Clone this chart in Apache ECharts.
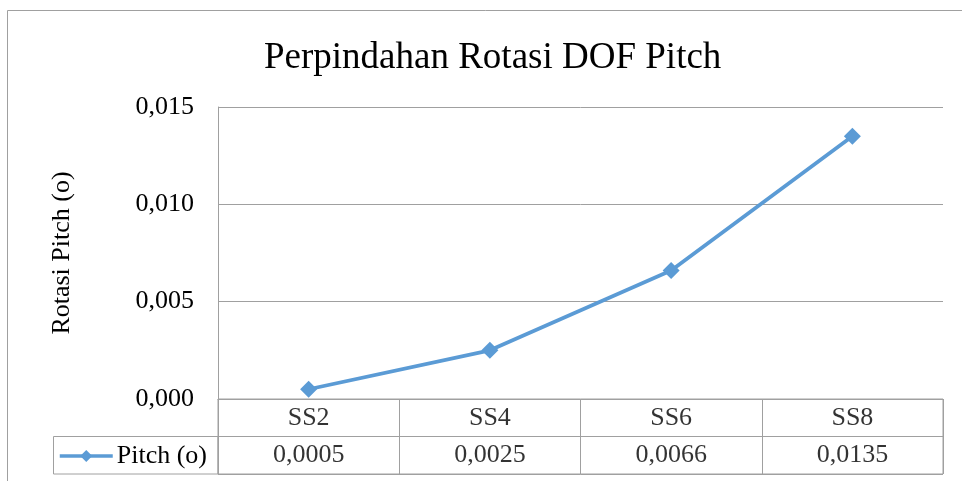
<!DOCTYPE html>
<html>
<head>
<meta charset="utf-8">
<script src="https://cdn.jsdelivr.net/npm/echarts@6/dist/echarts.min.js"></script>
<style>
html,body{margin:0;padding:0;background:#fff;}
#chart{width:962px;height:481px;}
</style>
</head>
<body>
<div id="chart"></div>
<script>
const categories = ['SS2', 'SS4', 'SS6', 'SS8'];
const pitchValues = [0.0005, 0.0025, 0.0066, 0.0135];
const seriesName = 'Pitch (o)';
const titleText = 'Perpindahan Rotasi DOF Pitch';
const yAxisName = 'Rotasi Pitch (o)';
const yMin = 0, yMax = 0.015, yStep = 0.005;

const FONT = "'Liberation Serif', 'Times New Roman', serif";
const GRID_COLOR = '#a0a0a0';
const LINE_COLOR = '#5b9bd5';

const fmtComma = (v, d) => v.toFixed(d).replace('.', ',');

const chart = echarts.init(document.getElementById('chart'), null, {renderer: 'canvas'});

const catLabelData = categories.map((c, i) => ({value: [i, 1.5], text: c}));
const valLabelData = pitchValues.map((v, i) => ({value: [i, 0.5], text: fmtComma(v, 4)}));

chart.setOption({
  animation: false,
  backgroundColor: '#ffffff',
  title: {
    text: titleText,
    left: 259,
    top: 35,
    textStyle: {fontFamily: FONT, fontSize: 37, fontWeight: 'normal', color: '#000'}
  },
  legend: {
    data: [seriesName],
    left: 53,
    top: 438,
    itemWidth: 53,
    itemHeight: 15,
    itemGap: 4,
    lineStyle: {width: 3.5},
    textStyle: {fontFamily: FONT, fontSize: 26, color: '#000', padding: [0, 0, 0, -1]}
  },
  graphic: [
    {type: 'rect', shape: {x: 7.5, y: 10.5, width: 1200, height: 1200}, style: {fill: 'none', stroke: GRID_COLOR, lineWidth: 1}, silent: true},
    {type: 'rect', shape: {x: 53.5, y: 436.5, width: 164.5, height: 37.5}, style: {fill: 'none', stroke: GRID_COLOR, lineWidth: 1}, silent: true}
  ],
  grid: [
    {left: 218, right: 19, top: 107, bottom: 82},
    {left: 218, right: 19, top: 399, height: 75, show: true, borderColor: GRID_COLOR, borderWidth: 1}
  ],
  xAxis: [
    {
      type: 'category', gridIndex: 0, data: categories, boundaryGap: true,
      axisLine: {show: true, lineStyle: {color: GRID_COLOR, width: 1}},
      axisTick: {show: false}, axisLabel: {show: false}
    },
    {
      type: 'category', gridIndex: 1, data: categories, boundaryGap: true,
      axisLine: {show: false}, axisTick: {show: false}, axisLabel: {show: false},
      splitLine: {show: true, interval: 0, lineStyle: {color: GRID_COLOR, width: 1}}
    }
  ],
  yAxis: [
    {
      type: 'value', gridIndex: 0, min: yMin, max: yMax, interval: yStep,
      name: yAxisName, nameLocation: 'middle', nameGap: 143, nameRotate: 90,
      nameTextStyle: {fontFamily: FONT, fontSize: 26, color: '#000'},
      axisLine: {show: true, lineStyle: {color: GRID_COLOR, width: 1}},
      axisTick: {show: false},
      axisLabel: {fontFamily: FONT, fontSize: 26, color: '#000', margin: 24, formatter: v => fmtComma(v, 3)},
      splitLine: {show: true, lineStyle: {color: GRID_COLOR, width: 1}}
    },
    {
      type: 'value', gridIndex: 1, min: 0, max: 2, interval: 1,
      axisLine: {show: false}, axisTick: {show: false}, axisLabel: {show: false},
      splitLine: {show: true, lineStyle: {color: GRID_COLOR, width: 1}}
    }
  ],
  series: [
    {
      name: seriesName, type: 'line', xAxisIndex: 0, yAxisIndex: 0,
      data: pitchValues,
      symbol: 'diamond', symbolSize: 17,
      lineStyle: {color: LINE_COLOR, width: 3.8},
      itemStyle: {color: LINE_COLOR}
    },
    {
      type: 'scatter', xAxisIndex: 1, yAxisIndex: 1, symbolSize: 0, silent: true,
      data: catLabelData.concat(valLabelData),
      label: {
        show: true, position: 'inside', formatter: p => p.data.text,
        fontFamily: FONT, fontSize: 26, color: '#000'
      }
    }
  ]
});
</script>
</body>
</html>
